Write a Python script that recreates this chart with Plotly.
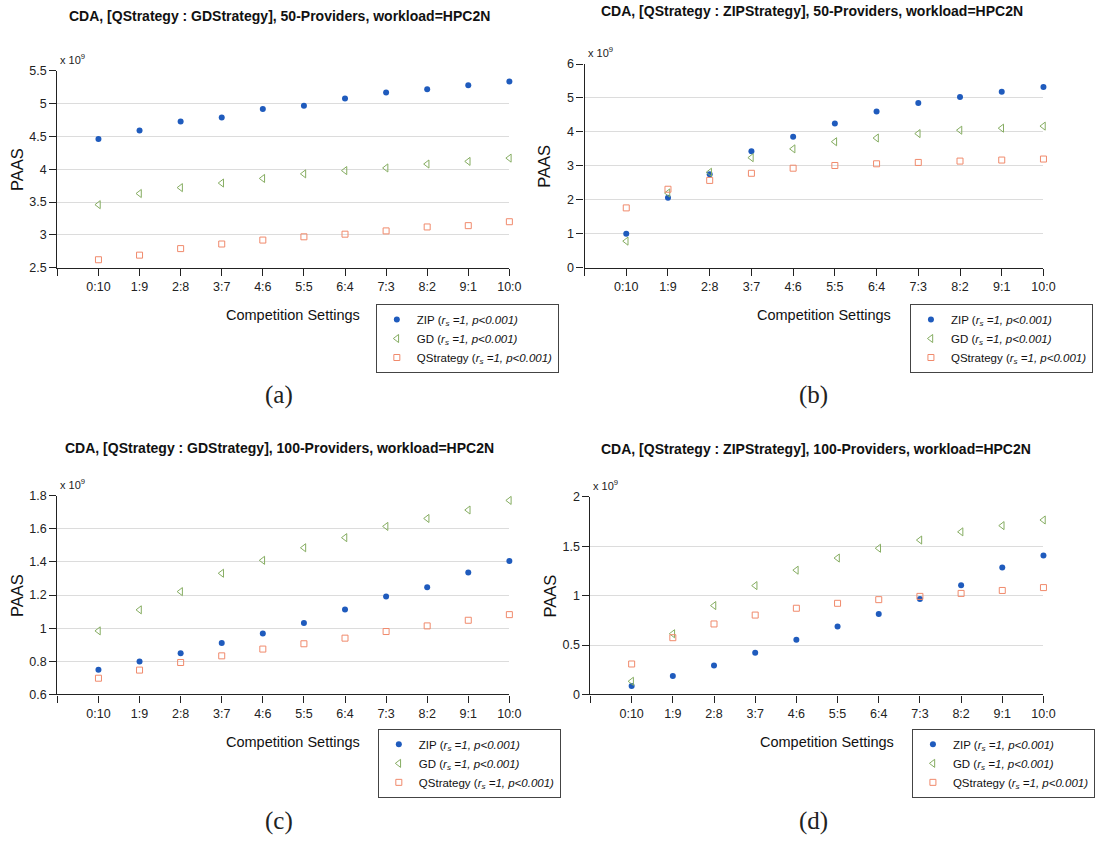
import plotly.graph_objects as go

W, H = 1097, 846

settings = ["0:10", "1:9", "2:8", "3:7", "4:6", "5:5", "6:4", "7:3", "8:2", "9:1", "10:0"]

# PAAS values, in units of 1e9
a_zip = [4.46, 4.59, 4.73, 4.79, 4.92, 4.97, 5.08, 5.17, 5.22, 5.28, 5.34]
a_gd = [3.46, 3.63, 3.72, 3.79, 3.86, 3.93, 3.98, 4.02, 4.08, 4.12, 4.17]
a_qs = [2.62, 2.69, 2.79, 2.86, 2.92, 2.97, 3.01, 3.06, 3.12, 3.14, 3.20]

b_zip = [1.00, 2.06, 2.75, 3.43, 3.86, 4.25, 4.60, 4.85, 5.03, 5.18, 5.32]
b_gd = [0.78, 2.20, 2.81, 3.24, 3.50, 3.71, 3.82, 3.95, 4.05, 4.11, 4.17]
b_qs = [1.76, 2.31, 2.57, 2.78, 2.93, 3.01, 3.06, 3.10, 3.14, 3.17, 3.20]

c_zip = [0.749, 0.799, 0.849, 0.910, 0.968, 1.032, 1.113, 1.191, 1.247, 1.336, 1.406]
c_gd = [0.984, 1.111, 1.221, 1.332, 1.410, 1.486, 1.547, 1.615, 1.663, 1.714, 1.772]
c_qs = [0.698, 0.747, 0.793, 0.833, 0.874, 0.906, 0.940, 0.980, 1.014, 1.048, 1.082]

d_zip = [0.086, 0.186, 0.292, 0.421, 0.554, 0.687, 0.813, 0.965, 1.104, 1.284, 1.406]
d_gd = [0.133, 0.614, 0.899, 1.101, 1.257, 1.380, 1.479, 1.562, 1.645, 1.708, 1.765]
d_qs = [0.308, 0.574, 0.713, 0.803, 0.872, 0.922, 0.959, 0.992, 1.022, 1.052, 1.081]

titles = [
    "CDA, [QStrategy : GDStrategy], 50-Providers, workload=HPC2N",
    "CDA, [QStrategy : ZIPStrategy], 50-Providers, workload=HPC2N",
    "CDA, [QStrategy : GDStrategy], 100-Providers, workload=HPC2N",
    "CDA, [QStrategy : ZIPStrategy], 100-Providers, workload=HPC2N",
]
captions = ["(a)", "(b)", "(c)", "(d)"]
y_ranges = [(2.5, 5.5, 0.5), (0, 6, 1), (0.6, 1.8, 0.2), (0, 2, 0.5)]

SANS = "Liberation Sans, Arial, sans-serif"
SERIF = "Liberation Serif, DejaVu Serif, serif"
C_ZIP = "#1f5bbd"
C_GD = "#86ad62"
C_QS = "#f08a6c"

# pixel boxes of each plot area: (left, right, top, bottom)
boxes = [
    (58, 515, 65, 265),
    (591, 1055, 58, 265),
    (58, 515, 497, 699),
    (597, 1055, 498, 699),
]
# legend top-left corners
legend_pos = [(380, 302), (920, 302), (382, 734), (922, 734)]
caption_pos = [(282, 395), (822, 395), (282, 828), (822, 828)]
title_pos = [(283, 9), (821, 4), (283, 448), (825, 449)]

panels = [(a_zip, a_gd, a_qs), (b_zip, b_gd, b_qs), (c_zip, c_gd, c_qs), (d_zip, d_gd, d_qs)]

x_pos = list(range(1, len(settings) + 1))

fig = go.Figure()
annotations = []
layout = {}


def px_x(v):
    return v / W


def px_y(v):
    return 1 - v / H


def leg_label(name):
    return f"{name} (<i>r<sub>s</sub> =1, p&lt;0.001)</i>"


for i, (zip_v, gd_v, qs_v) in enumerate(panels):
    n = i + 1
    xa = "x" if n == 1 else f"x{n}"
    ya = "y" if n == 1 else f"y{n}"
    leg = "legend" if n == 1 else f"legend{n}"
    series = [
        ("ZIP", zip_v, dict(symbol="circle", size=6, color=C_ZIP)),
        ("GD", gd_v, dict(symbol="triangle-left-open", size=7, color=C_GD, line=dict(width=1, color=C_GD))),
        ("QStrategy", qs_v, dict(symbol="square-open", size=6, color=C_QS, line=dict(width=1, color=C_QS))),
    ]
    for name, vals, mk in series:
        fig.add_trace(go.Scatter(
            x=x_pos, y=vals, mode="markers", name=leg_label(name), marker=mk,
            xaxis=xa, yaxis=ya, legend=leg, cliponaxis=False,
        ))

    l, r, t, b = boxes[i]
    lo, hi, step = y_ranges[i]
    kx = "xaxis" if n == 1 else f"xaxis{n}"
    ky = "yaxis" if n == 1 else f"yaxis{n}"
    layout[kx] = dict(
        domain=[px_x(l), px_x(r)], anchor=ya, range=[0, len(settings)],
        tickmode="array", tickvals=[0] + x_pos, ticktext=[""] + settings,
        showline=True, linecolor="#222", linewidth=1.2, ticks="outside", ticklen=7,
        tickcolor="#222", showgrid=False, zeroline=False,
        tickfont=dict(family=SANS, size=12.5, color="#222"),
    )
    layout[ky] = dict(
        domain=[px_y(b), px_y(t)], anchor=xa, range=[lo, hi], dtick=step, tick0=lo,
        showline=True, linecolor="#222", linewidth=1.2, ticks="outside", ticklen=7,
        tickcolor="#222", showgrid=True, gridcolor="#dcdcdc", gridwidth=1,
        zeroline=False, tickfont=dict(family=SANS, size=12.5, color="#222"),
    )
    lx, ly = legend_pos[i]
    layout[leg] = dict(
        x=px_x(lx), y=px_y(ly), xanchor="left", yanchor="top",
        bordercolor="#444", borderwidth=1, bgcolor="white",
        font=dict(family=SANS, size=11.5, color="#111"), itemsizing="trace",
        tracegroupgap=0, itemwidth=30,
    )
    # panel title
    tx, ty = title_pos[i]
    annotations.append(dict(
        text=f"<b>{titles[i]}</b>", x=px_x(tx), y=px_y(ty), xref="paper", yref="paper",
        showarrow=False, xanchor="center", yanchor="middle",
        font=dict(family=SANS, size=14, color="#111"),
    ))
    # multiplier above the value axis
    annotations.append(dict(
        text="x 10<sup>9</sup>", x=px_x(l + 1), y=px_y(t - 3), xref="paper", yref="paper",
        showarrow=False, xanchor="left", yanchor="bottom",
        font=dict(family=SANS, size=11, color="#222"),
    ))
    # axis titles
    annotations.append(dict(
        text="PAAS", x=px_x(l - 41), y=px_y((t + b) / 2), xref="paper", yref="paper",
        showarrow=False, textangle=-90, xanchor="center", yanchor="middle",
        font=dict(family=SANS, size=16.5, color="#111"),
    ))
    annotations.append(dict(
        text="Competition Settings", x=px_x((l + r) / 2 + 10), y=px_y(b + 48), xref="paper", yref="paper",
        showarrow=False, xanchor="center", yanchor="middle",
        font=dict(family=SANS, size=14.5, color="#111"),
    ))
    cx, cy = caption_pos[i]
    annotations.append(dict(
        text=captions[i], x=px_x(cx), y=px_y(cy), xref="paper", yref="paper",
        showarrow=False, xanchor="center", yanchor="middle",
        font=dict(family=SERIF, size=25, color="#222"),
    ))

fig.update_layout(
    width=W, height=H, margin=dict(l=0, r=0, t=0, b=0),
    paper_bgcolor="white", plot_bgcolor="white",
    showlegend=True, annotations=annotations, **layout,
)

fig.write_html("out.html")
